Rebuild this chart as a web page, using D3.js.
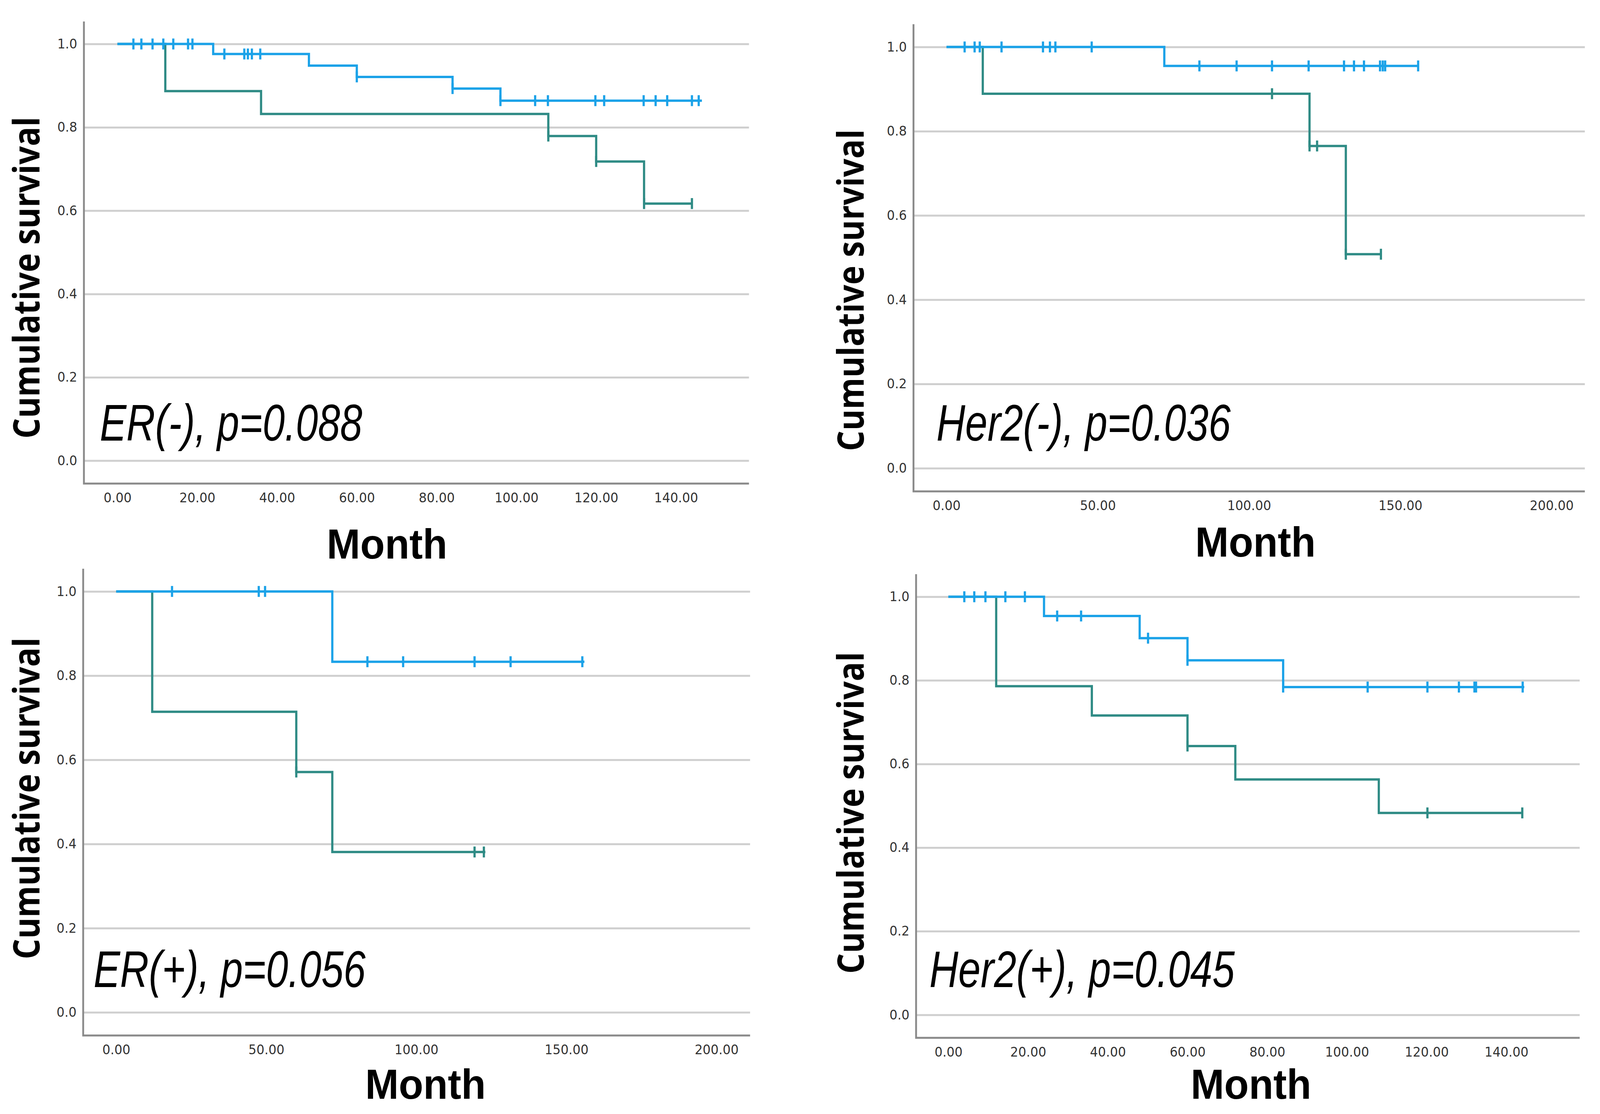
<!DOCTYPE html>
<html>
<head>
<meta charset="utf-8">
<script src="https://cdn.jsdelivr.net/npm/d3@7"></script>
<style>
  html, body { margin: 0; padding: 0; background: #fff; width: 100%; height: 100%; overflow: hidden; }
  svg { display: block; width: 100vw; height: 100vh; }
</style>
</head>
<body>
<svg id="chart" viewBox="0 0 4328 2852" preserveAspectRatio="none"></svg>
<script>
// ---- data (months, cumulative survival) ----
// ER(-)
let erNegBlueTimes = [0, 24, 48, 60, 84, 96];
let erNegBlueSurv = [1.0, 0.976, 0.948, 0.921, 0.893, 0.864];
let erNegBlueEnd = 146.5;
let erNegBlueCensor = [4, 6, 8.8, 11.5, 14, 17.7, 18.8, 26.8, 31.8, 32.7, 33.7, 35.8, 60, 84, 96, 104.7, 107.9, 119.8, 122, 131.9, 134.9, 137.8, 144, 145.7];
let erNegTealTimes = [0, 12, 36, 108, 120, 132];
let erNegTealSurv = [1.0, 0.887, 0.832, 0.779, 0.718, 0.617];
let erNegTealEnd = 144;
let erNegTealCensor = [108, 120, 132, 144];

// Her2(-)
let her2NegBlueTimes = [0, 72];
let her2NegBlueSurv = [1.0, 0.955];
let her2NegBlueEnd = 156;
let her2NegBlueCensor = [6, 9.3, 11, 18.2, 31.9, 34.2, 36, 48, 83.6, 95.9, 107.6, 119.7, 131.4, 134.7, 138, 143.3, 144.2, 145, 155.9];
let her2NegTealTimes = [0, 12, 120, 132];
let her2NegTealSurv = [1.0, 0.889, 0.765, 0.508];
let her2NegTealEnd = 143.6;
let her2NegTealCensor = [107.6, 120, 122.5, 132, 143.6];

// ER(+)
let erPosBlueTimes = [0, 72];
let erPosBlueSurv = [1.0, 0.833];
let erPosBlueEnd = 156;
let erPosBlueCensor = [18.6, 47.5, 49.6, 83.7, 95.6, 119.4, 131.4, 155.3];
let erPosTealTimes = [0, 12, 60, 72];
let erPosTealSurv = [1.0, 0.714, 0.571, 0.381];
let erPosTealEnd = 123;
let erPosTealCensor = [60, 119.4, 122.5];

// Her2(+)
let her2PosBlueTimes = [0, 24, 48, 60, 84];
let her2PosBlueSurv = [1.0, 0.954, 0.901, 0.848, 0.784];
let her2PosBlueEnd = 144.5;
let her2PosBlueCensor = [4, 6.5, 9.3, 14.3, 19.2, 27.3, 33.3, 50.1, 60, 84, 105.2, 120.2, 128.1, 132, 132.4, 144.1];
let her2PosTealTimes = [0, 12, 36, 60, 72, 108];
let her2PosTealSurv = [1.0, 0.786, 0.716, 0.643, 0.563, 0.483];
let her2PosTealEnd = 144;
let her2PosTealCensor = [60, 120.2, 144];

// panel labels and axis ticks
let panelLabels = ["ER(-), p=0.088", "Her2(-), p=0.036", "ER(+), p=0.056", "Her2(+), p=0.045"];
let shortTicks = [0, 20, 40, 60, 80, 100, 120, 140];
let longTicks = [0, 50, 100, 150, 200];
let yTicks = [0, 0.2, 0.4, 0.6, 0.8, 1.0];

let blue = "#1BA2E8";
let teal = "#2F8B85";

// layout of the four plots (pixels)
let panels = [
    {label: panelLabels[0], left: 227, right: 2026, top: 55, bottom: 1238, xDomain: [-8.4, 158.3], xTicks: shortTicks,
     labelX: 270, labelY: 1128, labelW: 710, monthX: 1047, monthY: 1430, survX: 107, survY: 711,
     series: [
        {times: erNegTealTimes, surv: erNegTealSurv, end: erNegTealEnd, censor: erNegTealCensor, color: teal},
        {times: erNegBlueTimes, surv: erNegBlueSurv, end: erNegBlueEnd, censor: erNegBlueCensor, color: blue}]},
    {label: panelLabels[1], left: 2471, right: 4287, top: 62, bottom: 1258, xDomain: [-10.9, 211], xTicks: longTicks,
     labelX: 2533, labelY: 1128, labelW: 796, monthX: 3396, monthY: 1425, survX: 2336, survY: 743,
     series: [
        {times: her2NegTealTimes, surv: her2NegTealSurv, end: her2NegTealEnd, censor: her2NegTealCensor, color: teal},
        {times: her2NegBlueTimes, surv: her2NegBlueSurv, end: her2NegBlueEnd, censor: her2NegBlueCensor, color: blue}]},
    {label: panelLabels[2], left: 225, right: 2029, top: 1456, bottom: 2651, xDomain: [-11, 211.2], xTicks: longTicks,
     labelX: 253, labelY: 2527, labelW: 736, monthX: 1151, monthY: 2813, survX: 107, survY: 2044,
     series: [
        {times: erPosTealTimes, surv: erPosTealSurv, end: erPosTealEnd, censor: erPosTealCensor, color: teal},
        {times: erPosBlueTimes, surv: erPosBlueSurv, end: erPosBlueEnd, censor: erPosBlueCensor, color: blue}]},
    {label: panelLabels[3], left: 2478, right: 4273, top: 1470, bottom: 2657, xDomain: [-8.1, 158.4], xTicks: shortTicks,
     labelX: 2514, labelY: 2527, labelW: 826, monthX: 3384, monthY: 2813, survX: 2336, survY: 2081,
     series: [
        {times: her2PosTealTimes, surv: her2PosTealSurv, end: her2PosTealEnd, censor: her2PosTealCensor, color: teal},
        {times: her2PosBlueTimes, surv: her2PosBlueSurv, end: her2PosBlueEnd, censor: her2PosBlueCensor, color: blue}]}
];

let svg = d3.select("#chart");
svg.append("rect").attr("width", 4328).attr("height", 2852).attr("fill", "#fff");

// survival value at time t (step function, right-continuous)
let survAt = function(times, surv, t){
    let v = surv[0];
    for(let i = 0; i < times.length; i++){
        if(times[i] <= t + 1e-9) v = surv[i];
    }
    return v;
}

let drawPanel = function(p){
    let x = d3.scaleLinear().domain(p.xDomain).range([p.left, p.right]);
    let y = d3.scaleLinear().domain([-0.055, 1.054]).range([p.bottom, p.top]);
    let g = svg.append("g");

    // gridlines
    g.append("g")
        .attr("transform", "translate(" + p.left + ",0)")
        .call(d3.axisLeft(y).tickValues(yTicks).tickSize(-(p.right - p.left)).tickFormat(""))
        .call(a => a.select(".domain").remove())
        .call(a => a.selectAll("line").attr("stroke", "#cfcfcf").attr("stroke-width", 5));

    // y tick labels
    g.append("g")
        .attr("transform", "translate(" + p.left + ",0)")
        .call(d3.axisLeft(y).tickValues(yTicks).tickSize(0).tickPadding(18).tickFormat(d3.format(".1f")))
        .call(a => a.select(".domain").remove())
        .call(a => a.selectAll("text").attr("font-family", "DejaVu Sans").attr("font-size", 34).attr("fill", "#333"));

    // x axis
    g.append("g")
        .attr("transform", "translate(0," + p.bottom + ")")
        .call(d3.axisBottom(x).tickValues(p.xTicks).tickSize(0).tickPadding(24).tickFormat(d3.format(".2f")))
        .call(a => a.select(".domain").remove())
        .call(a => a.selectAll("text").attr("font-family", "DejaVu Sans").attr("font-size", 34).attr("fill", "#333"));

    // axis lines
    g.append("path")
        .attr("d", "M" + p.left + "," + p.top + "V" + p.bottom + "H" + p.right)
        .attr("fill", "none")
        .attr("stroke", "#8a8a8a")
        .attr("stroke-width", 5);

    // curves
    let line = d3.line().x(d => x(d[0])).y(d => y(d[1])).curve(d3.curveStepAfter);
    p.series.forEach(function(s){
        let pts = s.times.map((t, i) => [t, s.surv[i]]);
        pts.push([s.end, s.surv[s.surv.length - 1]]);
        g.append("path")
            .attr("d", line(pts))
            .attr("fill", "none")
            .attr("stroke", s.color)
            .attr("stroke-width", 6);
        g.append("g").selectAll("line")
            .data(s.censor)
            .enter()
            .append("line")
            .attr("x1", d => x(d)).attr("x2", d => x(d))
            .attr("y1", d => y(survAt(s.times, s.surv, d)) - 14)
            .attr("y2", d => y(survAt(s.times, s.surv, d)) + 14)
            .attr("stroke", s.color)
            .attr("stroke-width", 6);
    });

    // texts
    g.append("text")
        .attr("x", p.labelX).attr("y", p.labelY)
        .attr("font-family", "'Liberation Sans Narrow', 'Liberation Sans', Arial, sans-serif")
        .attr("font-style", "italic")
        .attr("font-size", 132)
        .attr("textLength", p.labelW)
        .attr("lengthAdjust", "spacingAndGlyphs")
        .attr("fill", "#000")
        .text(p.label);

    g.append("text")
        .attr("x", p.monthX).attr("y", p.monthY)
        .attr("text-anchor", "middle")
        .attr("font-family", "'Liberation Sans', Arial, sans-serif")
        .attr("font-weight", "bold")
        .attr("font-size", 108)
        .attr("textLength", 326)
        .attr("lengthAdjust", "spacingAndGlyphs")
        .attr("fill", "#000")
        .text("Month");

    g.append("text")
        .attr("transform", "translate(" + p.survX + "," + p.survY + ") rotate(-90)")
        .attr("text-anchor", "middle")
        .attr("font-family", "'Open Sans', sans-serif")
        .attr("font-weight", "bold")
        .attr("font-size", 98)
        .attr("textLength", 824)
        .attr("lengthAdjust", "spacingAndGlyphs")
        .attr("fill", "#000")
        .text("Cumulative survival");
}

panels.forEach(drawPanel);
</script>
</body>
</html>
